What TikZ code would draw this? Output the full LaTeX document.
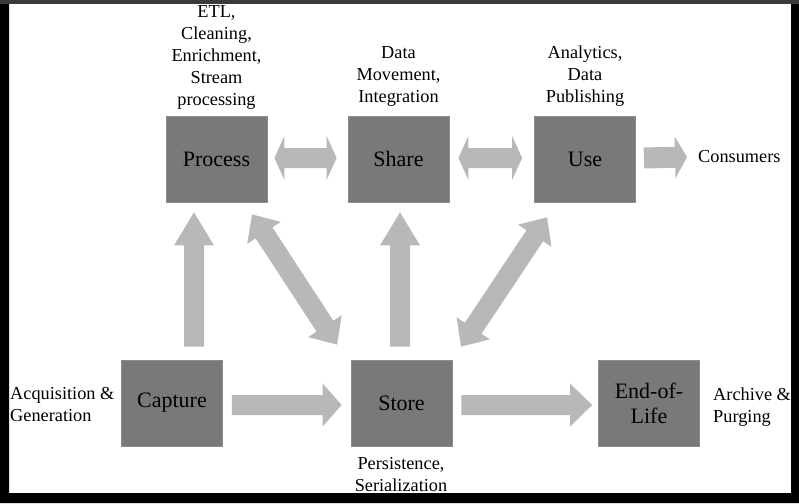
\documentclass[tikz,border=0pt]{standalone}
\usepackage{fontspec}
\setmainfont{Liberation Serif}
\usetikzlibrary{calc}
\definecolor{boxgray}{HTML}{797979}
\definecolor{boxedge}{HTML}{8C8C8C}
\definecolor{arrowgray}{HTML}{B8B8B8}
\definecolor{bandgray}{HTML}{3A3A3A}
% single fat arrow: tail, tip, shaft half-width, head half-width, head length
\newcommand\FatArrow[5]{%
  \coordinate (fa-h) at ($(#2)!#5!(#1)$);
  \fill[arrowfill] ($(#1)!#3!90:(#2)$) -- ($(fa-h)!#3!90:(#2)$) -- ($(fa-h)!#4!90:(#2)$) -- (#2)
    -- ($(fa-h)!#4!-90:(#2)$) -- ($(fa-h)!#3!-90:(#2)$) -- ($(#1)!#3!-90:(#2)$) -- cycle;}
% double fat arrow: tip A, tip B, shaft half-width, head half-width, head length
\newcommand\DblArrow[5]{%
  \coordinate (da-a) at ($(#1)!#5!(#2)$);
  \coordinate (da-b) at ($(#2)!#5!(#1)$);
  \fill[arrowfill] (#1) -- ($(da-a)!#4!90:(#2)$) -- ($(da-a)!#3!90:(#2)$) -- ($(da-b)!#3!90:(#2)$)
    -- ($(da-b)!#4!90:(#2)$) -- (#2) -- ($(da-b)!#4!-90:(#2)$) -- ($(da-b)!#3!-90:(#2)$)
    -- ($(da-a)!#3!-90:(#2)$) -- ($(da-a)!#4!-90:(#2)$) -- cycle;}
\begin{document}
\begin{tikzpicture}[x=1pt,y=-1pt,
  stage/.style={fill=boxgray, draw=boxedge, line width=0.8pt, minimum width=101pt, minimum height=86pt, inner sep=0pt,
    align=center, font=\fontsize{22}{25}\selectfont},
  lbl/.style={inner sep=0pt, font=\fontsize{18.3}{22}\selectfont},
  arrowfill/.style={fill=arrowgray}]
\useasboundingbox (0,0) rectangle (799,503);
\fill[white] (0,0) rectangle (799,503);

% stages
\node[stage] (process) at (216.5,159) {Process};
\node[stage] (share)   at (398.5,159) {Share};
\node[stage] (use)     at (585,159)   {Use};
\node[stage] (capture) at (172,403)   {Capture};
\node[stage] (store)   at (401.5,403) {Store};
\node[stage] (eol)     at (649,403)   {End-of-\\Life};

% labels
\node[lbl, align=center, anchor=south] (lproc) at (216.5,110) {ETL,\\Cleaning,\\Enrichment,\\Stream\\processing};
\node[lbl, align=center, anchor=south] (lshare) at (398.5,107) {Data\\Movement,\\Integration};
\node[lbl, align=center, anchor=south] (luse) at (585,107) {Analytics,\\Data\\Publishing};
\node[lbl, anchor=west] (lcons) at (698,157) {Consumers};
\node[lbl, align=left, anchor=west] (lacq) at (10,404) {Acquisition \&\\Generation};
\node[lbl, align=left, anchor=west] (larch) at (713,407) {Archive \&\\Purging};
\node[lbl, align=center, anchor=north] (lstore) at (401,457) {Persistence,\\Serialization};

% arrow end points
\coordinate (ps-a) at ($(process.east)+(7,-1)$);
\coordinate (ps-b) at ($(share.west)+(-11,-1)$);
\coordinate (su-a) at ($(share.east)+(9,-1)$);
\coordinate (su-b) at ($(use.west)+(-12,-1)$);
\coordinate (uc-a) at ($(use.east)+(8,-1)$);
\coordinate (uc-b) at ($(lcons.west)+(-11,0)$);
\coordinate (cs-a) at ($(capture.east)+(9,2)$);
\coordinate (cs-b) at ($(store.west)+(-9,2)$);
\coordinate (se-a) at ($(store.east)+(9,2)$);
\coordinate (se-b) at ($(eol.west)+(-6,2)$);
\coordinate (cp-a) at ($(capture.north)+(22,-13)$);
\coordinate (cp-b) at ($(process.south)+(-22.5,10)$);
\coordinate (ssh-a) at ($(store.north)+(-1.5,-13)$);
\coordinate (ssh-b) at ($(share.south)+(1.5,10)$);
\coordinate (pst-a) at ($(process.south)+(35.5,12)$);
\coordinate (pst-b) at ($(store.north)+(-64.5,-15)$);
\coordinate (stu-a) at ($(store.north)+(59.5,-13)$);
\coordinate (stu-b) at ($(use.south)+(-38,15)$);

% arrows
\DblArrow{ps-a}{ps-b}{10pt}{22pt}{10pt}
\DblArrow{su-a}{su-b}{10pt}{22pt}{10pt}
\FatArrow{uc-a}{uc-b}{10.5pt}{21pt}{12pt}
\FatArrow{cs-a}{cs-b}{10pt}{21.5pt}{19pt}
\FatArrow{se-a}{se-b}{10pt}{21.5pt}{22pt}
\FatArrow{cp-a}{cp-b}{10pt}{20pt}{33pt}
\FatArrow{ssh-a}{ssh-b}{10pt}{20pt}{33pt}
\DblArrow{pst-a}{pst-b}{10pt}{20pt}{22pt}
\DblArrow{stu-a}{stu-b}{10pt}{20pt}{22pt}

% frame
\fill[black, even odd rule] (0,0) rectangle (799,503) (9,4) rectangle (791,493);
\fill[bandgray] (0,0) rectangle (799,4);
\end{tikzpicture}
\end{document}
